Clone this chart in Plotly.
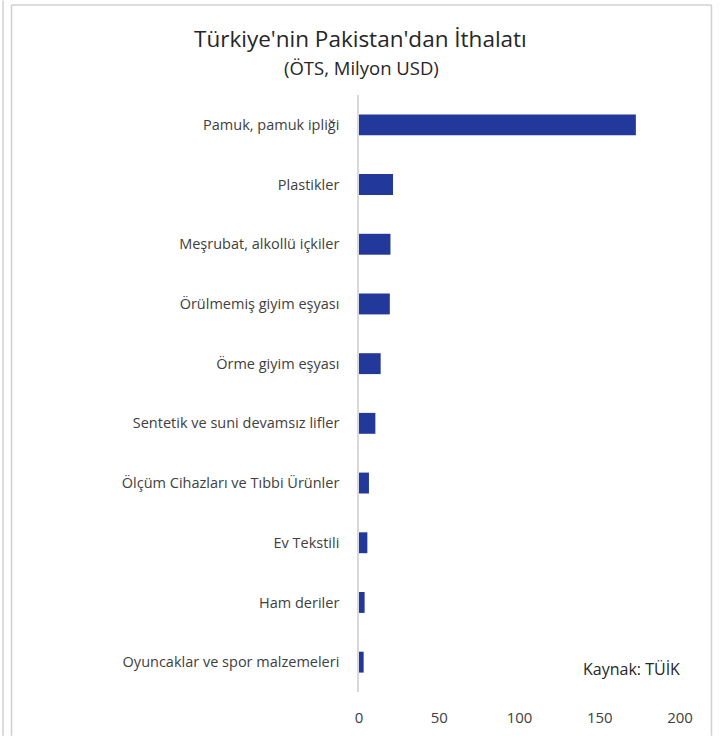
import plotly.graph_objects as go

categories = [
    "Pamuk, pamuk ipliği",
    "Plastikler",
    "Meşrubat, alkollü içkiler",
    "Örülmemiş giyim eşyası",
    "Örme giyim eşyası",
    "Sentetik ve suni devamsız lifler",
    "Ölçüm Cihazları ve Tıbbi Ürünler",
    "Ev Tekstili",
    "Ham deriler",
    "Oyuncaklar ve spor malzemeleri",
]
values = [172.5, 21.2, 19.6, 19.2, 13.5, 10.2, 6.2, 5.2, 3.5, 2.9]
x_ticks = [0, 50, 100, 150, 200]

W, H = 721, 739
ML, MR, MT, MB = 359, 41, 95, 44
FONT = "Open Sans"

fig = go.Figure(go.Bar(
    x=values, y=categories, orientation="h",
    marker=dict(color="#22389a", line=dict(width=0)),
    width=0.35,
))

def px_to_paper_x(px):
    return (px - ML) / (W - ML - MR)

def px_to_paper_y(py):
    return 1 - (py - MT) / (H - MT - MB)

shapes = []
# frame lines
for x0, y0, x1, y1 in [(3, 0, 3, H), (11.5, 4.5, 11.5, H), (11.5, 4.5, 711.5, 4.5), (711.5, 4.5, 711.5, H)]:
    shapes.append(dict(type="line", xref="paper", yref="paper",
                       x0=px_to_paper_x(x0), x1=px_to_paper_x(x1),
                       y0=px_to_paper_y(y0), y1=px_to_paper_y(y1),
                       line=dict(color="#d0d0d0", width=1.5)))

fig.update_layout(
    width=W, height=H,
    margin=dict(l=ML, r=MR, t=MT, b=MB, pad=0),
    paper_bgcolor="white", plot_bgcolor="white",
    font=dict(family=FONT, color="#404040", size=13),
    showlegend=False,
    shapes=shapes,
    xaxis=dict(range=[0, 200], tickvals=x_ticks, showgrid=False, zeroline=False,
               showline=False, ticks="", tickfont=dict(size=15, color="#404040"),
               ticklabelstandoff=15),
    yaxis=dict(autorange="reversed", categoryorder="array", categoryarray=categories,
               showgrid=False, zeroline=False, showline=True, linecolor="#d9d9d9",
               linewidth=1.5, ticks="", ticklabelstandoff=15,
               tickfont=dict(size=14.5, color="#404040")),
    annotations=[
        dict(text="Türkiye'nin Pakistan'dan İthalatı", xref="paper", yref="paper",
             x=px_to_paper_x(360), y=px_to_paper_y(38), showarrow=False,
             font=dict(size=22.5, color="#262626", family=FONT), xanchor="center", yanchor="middle"),
        dict(text="(ÖTS, Milyon USD)", xref="paper", yref="paper",
             x=px_to_paper_x(361), y=px_to_paper_y(67), showarrow=False,
             font=dict(size=18.5, color="#262626", family=FONT), xanchor="center", yanchor="middle"),
        dict(text="Kaynak: TÜİK", xref="paper", yref="paper",
             x=px_to_paper_x(631), y=px_to_paper_y(672), showarrow=False,
             font=dict(size=16, color="#262626", family=FONT), xanchor="center", yanchor="middle"),
    ],
)

fig.write_html("out.html", config={"displayModeBar": False},
               post_script="document.body.style.margin='0';document.body.style.overflow='hidden';")
